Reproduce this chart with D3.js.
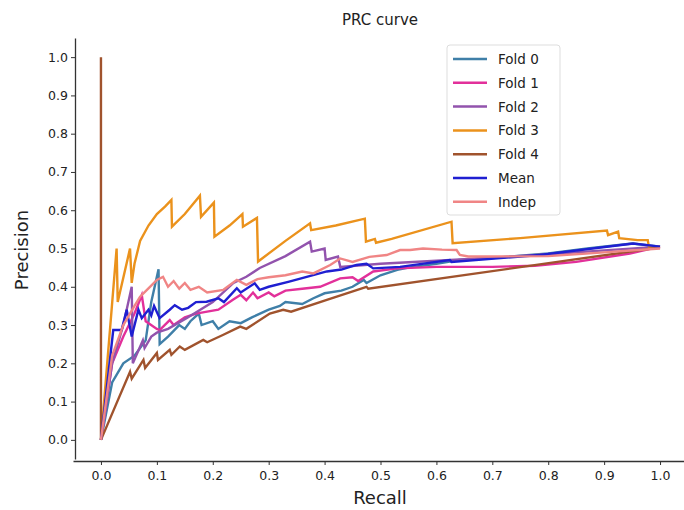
<!doctype html>
<html lang="en">
<head>
<meta charset="utf-8">
<title>PRC curve</title>
<script src="https://cdnjs.cloudflare.com/ajax/libs/d3/7.8.5/d3.min.js"></script>
<style>
  body { margin: 0; background: #fff; }
  svg text { font-family: "DejaVu Sans", sans-serif; fill: #222; }
  .tick line { stroke: #333; }
  .domain { stroke: #333; }
</style>
</head>
<body>
<script>

// values
var seriesNames = ["Fold 0", "Fold 1", "Fold 2", "Fold 3", "Fold 4", "Mean", "Indep"];
var seriesColors = ["#3f7fa8", "#e2309a", "#9253ad", "#eb921c", "#a0532d", "#1f1fd1", "#f08585"];

var fold0Recall = [0, 0.02, 0.04, 0.06, 0.08, 0.09, 0.103, 0.105, 0.12, 0.14, 0.15, 0.16, 0.175, 0.18, 0.2, 0.21, 0.23, 0.25, 0.27, 0.3, 0.32, 0.33, 0.36, 0.38, 0.4, 0.43, 0.45, 0.47, 0.475, 0.5, 0.53, 0.55, 0.6, 0.64, 0.7, 0.8, 0.87, 0.95, 1.0];
var fold0Precision = [0, 0.15, 0.2, 0.22, 0.26, 0.36, 0.446, 0.25, 0.27, 0.3, 0.29, 0.31, 0.33, 0.30, 0.31, 0.29, 0.31, 0.305, 0.32, 0.34, 0.35, 0.36, 0.355, 0.37, 0.383, 0.39, 0.4, 0.418, 0.41, 0.43, 0.444, 0.45, 0.46, 0.47, 0.475, 0.487, 0.5, 0.513, 0.505];

var fold1Recall = [0, 0.02, 0.04, 0.06, 0.073, 0.08, 0.1, 0.105, 0.123, 0.13, 0.15, 0.17, 0.19, 0.21, 0.236, 0.25, 0.26, 0.272, 0.28, 0.3, 0.31, 0.33, 0.36, 0.392, 0.428, 0.45, 0.46, 0.487, 0.53, 0.6, 0.7, 0.776, 0.85, 0.946, 1.0];
var fold1Precision = [0, 0.2, 0.27, 0.33, 0.378, 0.31, 0.29, 0.287, 0.313, 0.3, 0.32, 0.33, 0.335, 0.34, 0.366, 0.379, 0.365, 0.385, 0.37, 0.385, 0.375, 0.39, 0.395, 0.40, 0.422, 0.425, 0.415, 0.44, 0.448, 0.452, 0.452, 0.455, 0.465, 0.487, 0.505];

var fold2Recall = [0, 0.02, 0.04, 0.055, 0.057, 0.075, 0.078, 0.09, 0.1, 0.12, 0.153, 0.2, 0.237, 0.26, 0.284, 0.33, 0.374, 0.377, 0.40, 0.402, 0.424, 0.428, 0.5, 0.6, 0.7, 0.8, 0.9, 1.0];
var fold2Precision = [0, 0.2, 0.3, 0.40, 0.20, 0.26, 0.24, 0.27, 0.28, 0.29, 0.318, 0.36, 0.41, 0.426, 0.449, 0.48, 0.518, 0.492, 0.50, 0.47, 0.479, 0.452, 0.46, 0.468, 0.476, 0.485, 0.495, 0.505];

var fold3Recall = [0, 0.028, 0.03, 0.052, 0.055, 0.06, 0.07, 0.085, 0.1, 0.115, 0.126, 0.127, 0.15, 0.177, 0.179, 0.202, 0.203, 0.23, 0.253, 0.254, 0.279, 0.281, 0.33, 0.374, 0.376, 0.42, 0.472, 0.474, 0.49, 0.492, 0.52, 0.627, 0.629, 0.75, 0.905, 0.907, 0.925, 0.927, 0.96, 0.978, 0.98, 1.0];
var fold3Precision = [0, 0.50, 0.36, 0.50, 0.41, 0.46, 0.52, 0.56, 0.59, 0.61, 0.627, 0.557, 0.59, 0.638, 0.583, 0.62, 0.531, 0.56, 0.59, 0.557, 0.58, 0.466, 0.52, 0.566, 0.548, 0.56, 0.578, 0.518, 0.525, 0.515, 0.525, 0.57, 0.514, 0.527, 0.547, 0.535, 0.544, 0.527, 0.522, 0.522, 0.505, 0.505];

var fold4Recall = [0, 0, 0.028, 0.052, 0.055, 0.076, 0.079, 0.1, 0.102, 0.123, 0.126, 0.141, 0.15, 0.183, 0.19, 0.218, 0.249, 0.26, 0.302, 0.326, 0.34, 0.404, 0.475, 0.478, 1.0];
var fold4Precision = [1, 0, 0.096, 0.178, 0.16, 0.209, 0.188, 0.227, 0.209, 0.235, 0.222, 0.244, 0.235, 0.261, 0.255, 0.274, 0.296, 0.29, 0.33, 0.34, 0.335, 0.366, 0.40, 0.395, 0.503];

var meanRecall = [0, 0.022, 0.037, 0.046, 0.055, 0.067, 0.073, 0.085, 0.09, 0.095, 0.105, 0.123, 0.132, 0.145, 0.156, 0.17, 0.189, 0.21, 0.22, 0.243, 0.25, 0.275, 0.284, 0.3, 0.335, 0.368, 0.404, 0.43, 0.457, 0.475, 0.487, 0.535, 0.624, 0.627, 0.785, 0.952, 1.0];
var meanPrecision = [0, 0.287, 0.287, 0.34, 0.27, 0.34, 0.318, 0.34, 0.325, 0.35, 0.318, 0.34, 0.352, 0.34, 0.345, 0.36, 0.361, 0.37, 0.36, 0.396, 0.385, 0.409, 0.392, 0.40, 0.413, 0.426, 0.44, 0.445, 0.457, 0.46, 0.448, 0.452, 0.47, 0.465, 0.483, 0.513, 0.505];

var indepRecall = [0, 0.02, 0.04, 0.06, 0.07, 0.085, 0.1, 0.111, 0.12, 0.13, 0.14, 0.15, 0.16, 0.175, 0.19, 0.219, 0.243, 0.26, 0.28, 0.3, 0.33, 0.36, 0.38, 0.41, 0.428, 0.45, 0.48, 0.511, 0.535, 0.553, 0.576, 0.61, 0.636, 0.642, 0.657, 0.69, 0.8, 0.9, 1.0];
var indepPrecision = [0, 0.22, 0.3, 0.35, 0.374, 0.396, 0.418, 0.426, 0.40, 0.415, 0.395, 0.41, 0.392, 0.40, 0.385, 0.392, 0.418, 0.405, 0.42, 0.425, 0.43, 0.44, 0.435, 0.457, 0.474, 0.465, 0.478, 0.483, 0.496, 0.496, 0.50, 0.497, 0.496, 0.483, 0.479, 0.479, 0.48, 0.49, 0.5];

var xTicks = [0, 0.1, 0.2, 0.3, 0.4, 0.5, 0.6, 0.7, 0.8, 0.9, 1.0];
var yTicks = [0, 0.1, 0.2, 0.3, 0.4, 0.5, 0.6, 0.7, 0.8, 0.9, 1.0];

var allRecall = [fold0Recall, fold1Recall, fold2Recall, fold3Recall, fold4Recall, meanRecall, indepRecall];
var allPrecision = [fold0Precision, fold1Precision, fold2Precision, fold3Precision, fold4Precision, meanPrecision, indepPrecision];

var width = 684,
    height = 510;

var svg = d3.select("body")
            .append("svg")
            .attr("width", width)
            .attr("height", height);

// matplotlib style margins: 5% past the data on every side
var x = d3.scaleLinear().domain([-0.05, 1.05]).range([73, 688]);
var y = d3.scaleLinear().domain([-0.05, 1.05]).range([459, 38]);

var fmt = d3.format(".1f");

svg.append("g")
   .attr("transform", "translate(0,461)")
   .call(d3.axisBottom(x).tickValues(xTicks).tickFormat(fmt).tickSize(4).tickSizeOuter(0))
   .call(g => g.selectAll("text").attr("font-size", 12.5).attr("dy", "0.95em"))
   .call(g => g.select(".domain").attr("stroke-width", 1.3));

svg.append("g")
   .attr("transform", "translate(75,0)")
   .call(d3.axisLeft(y).tickValues(yTicks).tickFormat(fmt).tickSize(4).tickSizeOuter(0))
   .call(g => g.selectAll("text").attr("font-size", 12.5))
   .call(g => g.select(".domain").attr("stroke-width", 1.3));

var line = d3.line()
    .x(d => x(d[0]))
    .y(d => y(d[1]));

// one path per series, in legend order so Indep ends up on top
seriesNames.forEach(function(name, i) {
    var pts = allRecall[i].map((r, j) => [r, allPrecision[i][j]]);
    svg.append("path")
       .datum(pts)
       .attr("fill", "none")
       .attr("stroke", seriesColors[i])
       .attr("stroke-width", 2.4)
       .attr("stroke-linejoin", "miter")
       .attr("d", line);
});

// title and axis labels
svg.append("text")
   .attr("x", 380).attr("y", 25)
   .attr("text-anchor", "middle")
   .attr("font-size", 15)
   .text("PRC curve");

svg.append("text")
   .attr("x", 380).attr("y", 504)
   .attr("text-anchor", "middle")
   .attr("font-size", 18)
   .text("Recall");

svg.append("text")
   .attr("transform", "translate(28,250) rotate(-90)")
   .attr("text-anchor", "middle")
   .attr("font-size", 18)
   .text("Precision");

// legend
var legend = svg.append("g").attr("transform", "translate(447,45)");

legend.append("rect")
      .attr("width", 113)
      .attr("height", 170)
      .attr("rx", 3)
      .attr("fill", "#fff")
      .attr("stroke", "#ddd");

seriesNames.forEach(function(name, i) {
    var row = legend.append("g").attr("transform", "translate(0," + (14 + i * 23.8) + ")");
    row.append("line")
       .attr("x1", 6).attr("x2", 40)
       .attr("stroke", seriesColors[i])
       .attr("stroke-width", 2.5);
    row.append("text")
       .attr("x", 51).attr("y", 5)
       .attr("font-size", 13.5)
       .text(name);
});

</script>
</body>
</html>
